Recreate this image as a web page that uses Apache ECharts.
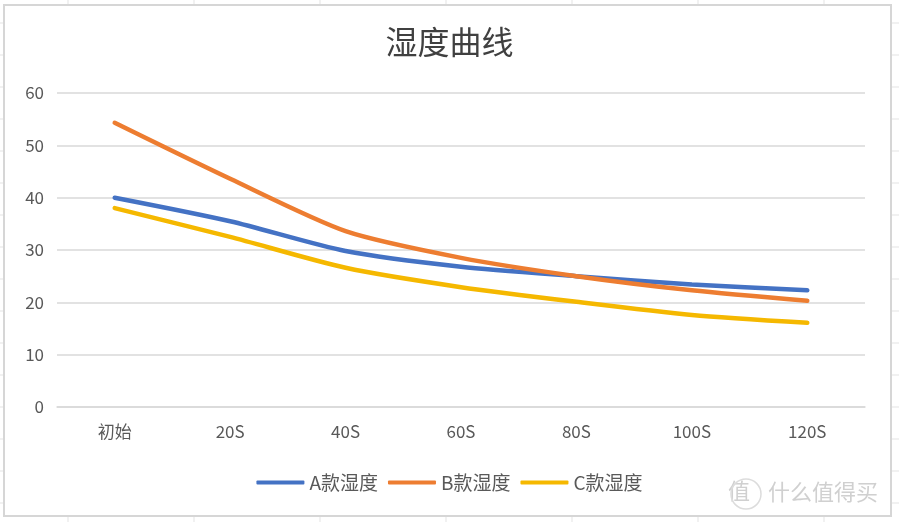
<!DOCTYPE html>
<html><head><meta charset="utf-8">
<script src="https://cdn.jsdelivr.net/npm/echarts@6/dist/echarts.min.js"></script>
<style>html,body{margin:0;padding:0;background:#fff}#c{width:899px;height:522px}</style>
</head><body><div id="c"></div>
<script>
const categories = ['初始','20S','40S','60S','80S','100S','120S'];
const seriesA = [40.0, 35.5, 29.8, 26.8, 25.0, 23.4, 22.3];
const seriesB = [54.3, 43.6, 33.6, 28.5, 25.0, 22.3, 20.3];
const seriesC = [38.0, 32.5, 26.6, 22.9, 20.1, 17.6, 16.1];
const names = ['A款湿度','B款湿度','C款湿度'];
const colors = ['#4472C4','#ED7D31','#F5B800'];

const chart = echarts.init(document.getElementById('c'));
// spreadsheet background grid
const bg = [];
[68,194,320,446,572,698,824].forEach(x=>bg.push({type:'line',shape:{x1:x,y1:0,x2:x,y2:522},style:{stroke:'#e3e3e3',lineWidth:1},z:-10}));
for(let y=23;y<522;y+=32) bg.push({type:'line',shape:{x1:0,y1:y,x2:899,y2:y},style:{stroke:'#e3e3e3',lineWidth:1},z:-10});
bg.push({type:'rect',shape:{x:4,y:5,width:887,height:511},style:{fill:'#fff',stroke:'#d6d6d6',lineWidth:2},z:-5});
bg.push({type:'text',left:728,top:480,style:{text:'值',fill:'#d0d0d0',font:'22px "Noto Sans CJK SC"'},z:10});
bg.push({type:'circle',shape:{cx:746,cy:494,r:15},style:{fill:'none',stroke:'#dcdcdc',lineWidth:1.5},z:10});
bg.push({type:'text',left:768,top:481,style:{text:'什么值得买',fill:'#d0d0d0',font:'22px "Noto Sans CJK SC"'},z:10});

chart.setOption({
  backgroundColor:'transparent',
  graphic: bg,
  title:{text:'湿度曲线',left:'center',top:21,textStyle:{fontFamily:'"Noto Sans CJK SC"',fontSize:32,fontWeight:'normal',color:'#404040'}},
  legend:{bottom:25,left:'center',itemWidth:48,itemHeight:4,itemGap:10,icon:'roundRect',
    textStyle:{fontFamily:'"Noto Sans CJK SC"',fontSize:19,color:'#595959',padding:[0,0,0,0]},data:names},
  grid:{left:57,right:34,top:93,bottom:115},
  xAxis:{type:'category',data:categories,boundaryGap:true,
    axisLine:{lineStyle:{color:'#d9d9d9',width:1.5}},axisTick:{show:false},
    axisLabel:{fontFamily:'"Noto Sans CJK SC"',fontSize:17,color:'#595959',margin:16}},
  yAxis:{type:'value',min:0,max:60,interval:10,
    axisLine:{show:false},axisTick:{show:false},
    splitLine:{lineStyle:{color:'#d9d9d9',width:1.5}},
    axisLabel:{fontFamily:'"Noto Sans CJK SC"',fontSize:17,color:'#595959',margin:13}},
  series:[seriesA,seriesB,seriesC].map((d,i)=>({
    name:names[i],type:'line',data:d,smooth:0.25,symbol:'none',
    lineStyle:{width:4.5,color:colors[i],cap:'round'},itemStyle:{color:colors[i]}
  }))
});
</script></body></html>
